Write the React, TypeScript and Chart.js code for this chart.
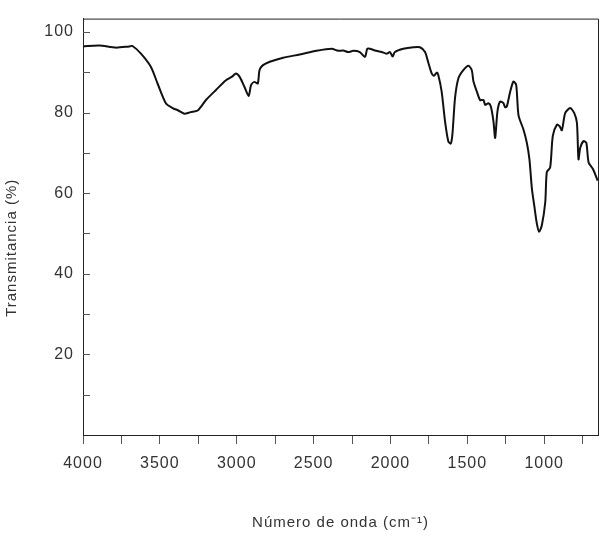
import React, { useEffect, useRef } from 'react';
import { Chart, registerables } from 'chart.js';

Chart.register(...registerables);

const wavenumbers = [
  4000, 3894, 3786, 3700, 3678, 3623, 3558, 3515, 3461, 3417, 3380, 3341, 3300, 3254, 3200,
  3135, 3070, 3030, 3005, 2982, 2950, 2922, 2907, 2885, 2863, 2852, 2831, 2785, 2698, 2590,
  2481, 2383, 2340, 2307, 2275, 2242, 2199, 2166, 2151, 2134, 2101, 2057, 2025, 2003, 1986,
  1971, 1917, 1851, 1808, 1775, 1754, 1732, 1717, 1699, 1689, 1667, 1645, 1624, 1608, 1597,
  1580, 1558, 1526, 1493, 1471, 1460, 1438, 1417, 1395, 1384, 1363, 1347, 1330, 1319, 1304,
  1287, 1265, 1254, 1243, 1221, 1200, 1182, 1167, 1135, 1113, 1096, 1080, 1065, 1048, 1033,
  1015, 993, 983, 961, 944, 917, 900, 885, 863, 831, 805, 787, 777, 765, 744,
  726, 711, 683, 652,
];

const transmittance = [
  96.4, 96.6, 96.1, 96.4, 96.5, 94.6, 91.3, 87.2, 82.3, 81.1, 80.5, 79.7, 80.1, 80.5, 83.1,
  85.6, 88.0, 88.9, 89.7, 88.9, 86.4, 84.1, 86.8, 87.6, 87.2, 90.5, 91.7, 92.6, 93.6, 94.4,
  95.3, 95.8, 95.3, 95.4, 95.0, 95.3, 95.0, 93.8, 95.8, 95.8, 95.4, 95.0, 94.6, 95.0, 93.9,
  95.0, 95.8, 96.2, 96.2, 95.0, 92.4, 89.7, 89.1, 89.9, 89.3, 85.2, 77.8, 72.9, 72.3, 74.6,
  83.6, 88.5, 90.5, 91.6, 90.5, 87.7, 85.2, 83.1, 83.1, 81.9, 82.3, 81.5, 77.8, 73.7, 80.3,
  82.7, 82.3, 81.3, 81.5, 85.2, 87.7, 86.8, 79.3, 75.8, 72.5, 68.4, 61.1, 57.0, 52.5, 50.4,
  52.1, 57.8, 65.2, 66.4, 74.2, 77.0, 76.6, 75.6, 79.9, 81.1, 79.9, 77.4, 68.4, 71.3, 72.9,
  72.5, 67.6, 66.0, 63.1,
];

const xMin = 650;
const xMax = 4000;
const xStep = 250;
const xLabelStep = 500;
const yMin = 0;
const yMax = 103.3;
const yStep = 10;
const yLabelStep = 20;

const xTitle = 'Número de onda (cm⁻¹)';
const yTitle = 'Transmitancia (%)';

const FONT = "'Liberation Sans', Arial, Helvetica, sans-serif";
const TEXT_COLOR = '#333';

export default function App() {
  const ref = useRef<HTMLCanvasElement>(null);

  useEffect(() => {
    if (!ref.current) return;

    const framePlugin = {
      id: 'frame',
      beforeDraw(chart: any) {
        (chart.ctx as any).letterSpacing = '1px';
      },
      afterDraw(chart: any) {
        const { ctx, chartArea: a, scales } = chart;
        ctx.save();
        ctx.strokeStyle = '#222';
        ctx.lineWidth = 1;
        ctx.beginPath();
        ctx.moveTo(a.left, a.top + 0.5);
        ctx.lineTo(a.right + 0.5, a.top + 0.5);
        ctx.lineTo(a.right + 0.5, a.bottom);
        ctx.stroke();

        ctx.strokeStyle = '#555';
        ctx.beginPath();
        const ys = scales.y;
        for (const t of ys.ticks) {
          if (t.value > 0 && t.value % yStep === 0) {
            const py = Math.round(ys.getPixelForValue(t.value)) + 0.5;
            ctx.moveTo(a.left, py);
            ctx.lineTo(a.left + 7, py);
          }
        }
        ctx.stroke();

        ctx.translate(12, (a.top + a.bottom) / 2 + 21);
        ctx.rotate(-Math.PI / 2);
        ctx.textAlign = 'center';
        ctx.textBaseline = 'middle';
        ctx.font = `15px ${FONT}`;
        ctx.fillStyle = TEXT_COLOR;
        ctx.fillText(yTitle, 0, 0);
        ctx.restore();
      },
    };

    const chart = new Chart(ref.current, {
      type: 'line',
      data: {
        datasets: [
          {
            data: wavenumbers.map((w, i) => ({ x: w, y: transmittance[i] })),
            borderColor: '#111',
            borderWidth: 2,
            pointRadius: 0,
            tension: 0.25,
            fill: false,
          },
        ],
      },
      options: {
        responsive: false,
        animation: false,
        devicePixelRatio: 1,
        layout: { padding: { top: 15, right: 11, left: 0, bottom: 0 } },
        plugins: {
          legend: { display: false },
          tooltip: { enabled: false },
        },
        scales: {
          x: {
            type: 'linear',
            reverse: true,
            min: xMin,
            max: xMax,
            afterFit: (s: any) => {
              s.height = 107;
            },
            grid: {
              drawOnChartArea: false,
              drawTicks: true,
              tickLength: 9,
              tickColor: '#555',
            },
            border: { display: true, color: '#222', width: 1 },
            ticks: {
              stepSize: xStep,
              includeBounds: false,
              autoSkip: false,
              maxRotation: 0,
              padding: 10,
              color: TEXT_COLOR,
              font: { family: FONT, size: 16 },
              callback: (v: any) => (Number(v) % xLabelStep === 0 ? String(v) : ''),
            },
            title: {
              display: true,
              text: xTitle,
              color: TEXT_COLOR,
              font: { family: FONT, size: 15 },
              padding: { top: 0, bottom: 10 },
            },
          },
          y: {
            type: 'linear',
            min: yMin,
            max: yMax,
            afterFit: (s: any) => {
              s.width = 83;
            },
            grid: {
              drawOnChartArea: false,
              drawTicks: false,
            },
            border: { display: true, color: '#222', width: 1 },
            ticks: {
              stepSize: yStep,
              includeBounds: false,
              autoSkip: false,
              padding: 9,
              color: TEXT_COLOR,
              font: { family: FONT, size: 16 },
              callback: (v: any) =>
                Number(v) > 0 && Number(v) % yLabelStep === 0 ? String(v) : '',
            },
          },
        },
      },
      plugins: [framePlugin],
    });

    return () => chart.destroy();
  }, []);

  return (
    <div style={{ position: 'absolute', left: 0, top: 0, width: 609, height: 542 }}>
      <canvas ref={ref} width={609} height={542} style={{ width: 609, height: 542 }} />
    </div>
  );
}
